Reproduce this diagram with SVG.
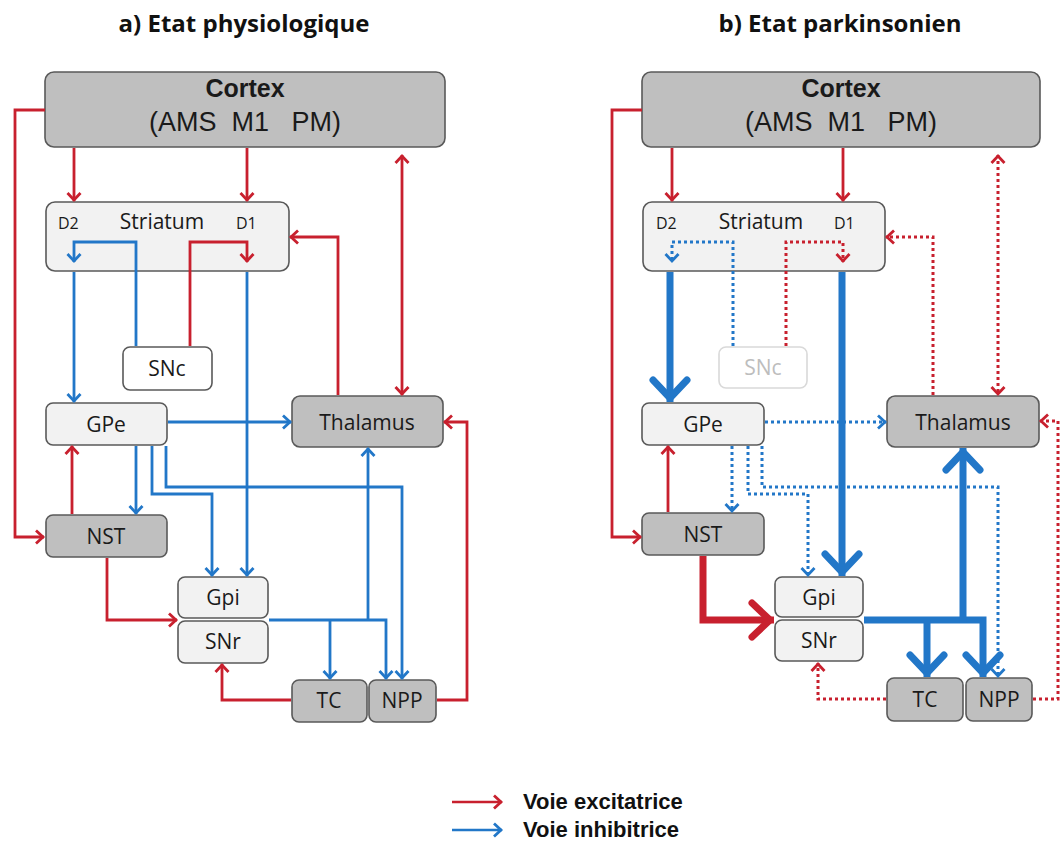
<svg xmlns="http://www.w3.org/2000/svg" width="1062" height="850" viewBox="0 0 1062 850">
<style>
.node{stroke:#595959;stroke-width:1.6}
.dark{fill:#bfbfbf}
.light{fill:#f2f2f2}
.white{fill:#ffffff}
.faded{fill:#ffffff;stroke:#d9d9d9}
.lbl{font-family:"Open Sans","Noto Sans",sans-serif;font-size:21px;fill:#1a1a1a;text-anchor:middle}
.small{font-family:"Open Sans","Noto Sans",sans-serif;font-size:16px;fill:#1a1a1a}
.cx1{font-family:"Liberation Sans",Arial,sans-serif;font-size:25px;font-weight:bold;fill:#1a1a1a;text-anchor:middle}
.cx2{font-family:"Liberation Sans",Arial,sans-serif;font-size:27px;fill:#1a1a1a;white-space:pre}
.title{font-family:"Open Sans","Noto Sans",sans-serif;font-size:24px;font-weight:bold;fill:#111}
.leg{font-family:"Liberation Sans",Arial,sans-serif;font-size:22px;font-weight:bold;fill:#111}
.r{fill:none;stroke:#c8202e;stroke-width:2.8}
.b{fill:none;stroke:#2277c8;stroke-width:2.8}
.dot{stroke-dasharray:3 3;stroke-width:3}
.thick{stroke-width:7}
.ar{marker-end:url(#mR)}
.ab{marker-end:url(#mB)}
.aR{marker-end:url(#mRT)}
.aB{marker-end:url(#mBT)}
</style>
<defs>
<marker id="mR" markerUnits="userSpaceOnUse" orient="auto-start-reverse" refX="0" refY="0" markerWidth="1" markerHeight="1" overflow="visible"><path d="M-8,-6.5 L-1,0 L-8,6.5" fill="none" stroke="#c8202e" stroke-width="2.8"/></marker>
<marker id="mB" markerUnits="userSpaceOnUse" orient="auto" refX="0" refY="0" markerWidth="1" markerHeight="1" overflow="visible"><path d="M-8,-6.5 L-1,0 L-8,6.5" fill="none" stroke="#2277c8" stroke-width="2.8"/></marker>
<marker id="mRT" markerUnits="userSpaceOnUse" orient="auto" refX="0" refY="0" markerWidth="1" markerHeight="1" overflow="visible"><path d="M-22,-17 L-4,0 L-22,17" fill="none" stroke="#c8202e" stroke-width="7" stroke-linejoin="round" stroke-linecap="round"/></marker>
<marker id="mBT" markerUnits="userSpaceOnUse" orient="auto" refX="0" refY="0" markerWidth="1" markerHeight="1" overflow="visible"><path d="M-22,-17 L-4,0 L-22,17" fill="none" stroke="#2277c8" stroke-width="7" stroke-linejoin="round" stroke-linecap="round"/></marker>
</defs>
<rect width="1062" height="850" fill="#ffffff"/>

<text class="title" x="244" y="32" text-anchor="middle">a) Etat physiologique</text>
<text class="title" x="840" y="32" text-anchor="middle">b) Etat parkinsonien</text>

<!-- left panel nodes -->
<g id="cortex-a"><rect class="node dark" x="45" y="72" width="400" height="75" rx="9"/><text class="cx1" x="245" y="97">Cortex</text><text class="cx2" x="245" y="131" text-anchor="middle">(AMS  M1   PM)</text></g>
<g id="striatum-a"><rect class="node light" x="46" y="202" width="243" height="69" rx="9"/><text class="small" x="58" y="229">D2</text><text class="lbl" x="162" y="229">Striatum</text><text class="small" x="236" y="229">D1</text></g>
<g id="snc-a"><rect class="node white" x="123" y="347" width="89" height="43" rx="7"/><text class="lbl" x="167" y="376">SNc</text></g>
<g id="gpe-a"><rect class="node light" x="46" y="403" width="121" height="42" rx="7"/><text class="lbl" x="106" y="432">GPe</text></g>
<g id="thalamus-a"><rect class="node dark" x="292" y="396" width="151" height="51" rx="8"/><text class="lbl" x="367" y="430">Thalamus</text></g>
<g id="nst-a"><rect class="node dark" x="46" y="515" width="121" height="42" rx="7"/><text class="lbl" x="106" y="544">NST</text></g>
<g id="gpi-a"><rect class="node light" x="178" y="577" width="90" height="41" rx="7"/><text class="lbl" x="223" y="605">Gpi</text></g>
<g id="snr-a"><rect class="node light" x="178" y="621" width="90" height="42" rx="7"/><text class="lbl" x="223" y="649">SNr</text></g>
<g id="tc-a"><rect class="node dark" x="292" y="680" width="75" height="42" rx="7"/><text class="lbl" x="329" y="708">TC</text></g>
<g id="npp-a"><rect class="node dark" x="369" y="680" width="67" height="42" rx="7"/><text class="lbl" x="402" y="708">NPP</text></g>

<!-- right panel nodes -->
<g id="cortex-b"><rect class="node dark" x="642" y="72" width="398" height="75" rx="9"/><text class="cx1" x="841" y="97">Cortex</text><text class="cx2" x="841" y="131" text-anchor="middle">(AMS  M1   PM)</text></g>
<g id="striatum-b"><rect class="node light" x="643" y="202" width="242" height="69" rx="9"/><text class="small" x="656" y="229">D2</text><text class="lbl" x="761" y="229">Striatum</text><text class="small" x="834" y="229">D1</text></g>
<g id="snc-b"><rect class="node faded" x="719" y="347" width="88" height="41" rx="7"/><text class="lbl" x="763" y="375" style="fill:#bdbdbd">SNc</text></g>
<g id="gpe-b"><rect class="node light" x="642" y="403" width="122" height="42" rx="7"/><text class="lbl" x="703" y="432">GPe</text></g>
<g id="thalamus-b"><rect class="node dark" x="887" y="396" width="152" height="51" rx="8"/><text class="lbl" x="963" y="430">Thalamus</text></g>
<g id="nst-b"><rect class="node dark" x="642" y="513" width="122" height="42" rx="7"/><text class="lbl" x="703" y="542">NST</text></g>
<g id="gpi-b"><rect class="node light" x="775" y="577" width="88" height="40" rx="7"/><text class="lbl" x="819" y="605">Gpi</text></g>
<g id="snr-b"><rect class="node light" x="775" y="620" width="88" height="41" rx="7"/><text class="lbl" x="819" y="648">SNr</text></g>
<g id="tc-b"><rect class="node dark" x="887" y="678" width="76" height="43" rx="7"/><text class="lbl" x="925" y="707">TC</text></g>
<g id="npp-b"><rect class="node dark" x="966" y="678" width="66" height="43" rx="7"/><text class="lbl" x="999" y="707">NPP</text></g>

<g id="connectors">
<!-- left panel -->
<path class="r ar" d="M45,110 H15 V537 H44"/>
<path class="r ar" d="M74,148 V201"/>
<path class="r ar" d="M247,148 V201"/>
<path class="b ab" d="M136,346 V242 H74 V262"/>
<path class="r ar" d="M190,346 V242 H247 V262"/>
<path class="r ar" d="M338,395 V237 H290"/>
<path class="r ar" d="M402,155 V395" style="marker-start:url(#mR)"/>
<path class="b ab" d="M74,272 V402"/>
<path class="b ab" d="M247,272 V576"/>
<path class="b ab" d="M168,422 H291"/>
<path class="b ab" d="M136,446 V514"/>
<path class="b ab" d="M152,446 V494 H212 V576"/>
<path class="b ab" d="M166,446 V487 H402 V679"/>
<path class="r ar" d="M72,514 V446"/>
<path class="r ar" d="M107,558 V620 H177"/>
<path class="b ab" d="M269,620 H386 V679"/>
<path class="b ab" d="M330,620 V679"/>
<path class="b ab" d="M368,620 V448"/>
<path class="r ar" d="M291,700 H222 V664"/>
<path class="r ar" d="M437,700 H467 V422 H444"/>
<!-- right panel -->
<path class="r ar" d="M642,110 H612 V537 H641"/>
<path class="r ar" d="M672,148 V201"/>
<path class="r ar" d="M843,148 V201"/>
<path class="b dot ab" d="M733,346 V242 H672 V262"/>
<path class="r dot ar" d="M786,346 V242 H843 V262"/>
<path class="r dot ar" d="M933,395 V237 H886"/>
<path class="r dot ar" d="M998,155 V395" style="marker-start:url(#mR)"/>
<path class="b thick aB" d="M670,272 V402"/>
<path class="b thick aB" d="M842,272 V576"/>
<path class="b dot ab" d="M765,422 H886"/>
<path class="b dot ab" d="M732,446 V512"/>
<path class="b dot ab" d="M748,446 V494 H808 V576"/>
<path class="b dot ab" d="M762,446 V487 H998 V677"/>
<path class="r ar" d="M668,512 V446"/>
<path class="r thick aR" d="M703,556 V620 H774"/>
<path class="b thick aB" d="M864,620 H983 V677"/>
<path class="b thick aB" d="M927,620 V677"/>
<path class="b thick aB" d="M963,623 V448"/>
<path class="r dot ar" d="M886,699 H818 V663"/>
<path class="r dot ar" d="M1033,699 H1058 V421 H1040"/>
</g>

<g id="legend">
<path class="r ar" d="M452,802 H502" style="stroke-width:2.5"/>
<path class="b ab" d="M452,830 H502" style="stroke-width:2.5"/>
<text class="leg" x="523" y="809">Voie excitatrice</text>
<text class="leg" x="523" y="837">Voie inhibitrice</text>
</g>
</svg>
